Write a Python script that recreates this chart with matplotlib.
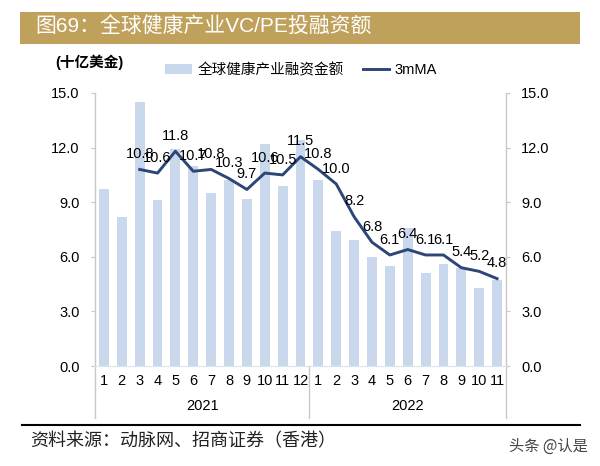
import matplotlib
matplotlib.use('Agg')
import matplotlib.pyplot as plt
from matplotlib.patches import Rectangle, Patch
from matplotlib.lines import Line2D
import matplotlib.transforms as mtransforms

plt.rcParams['font.family'] = ['Liberation Sans', 'Noto Sans CJK SC', 'DejaVu Sans']

# data
months = ['1', '2', '3', '4', '5', '6', '7', '8', '9', '10', '11', '12',
          '1', '2', '3', '4', '5', '6', '7', '8', '9', '10', '11']
years = ['2021', '2022']
year_counts = [12, 11]
funding = [9.7, 8.2, 14.5, 9.1, 11.9, 11.0, 9.5, 10.2, 9.2, 12.2, 9.9, 12.4,
           10.2, 7.4, 6.9, 6.0, 5.5, 7.6, 5.1, 5.6, 5.4, 4.3, 4.7]
ma3 = [10.8, 10.6, 11.8, 10.7, 10.8, 10.3, 9.7, 10.6, 10.5, 11.5,
       10.8, 10.0, 8.2, 6.8, 6.1, 6.4, 6.1, 6.1, 5.4, 5.2, 4.8]
yticks = [0, 3, 6, 9, 12, 15]

bar_color = '#c9d8ec'
line_color = '#2b4677'
axis_gray = '#c8c8c8'

fig = plt.figure(figsize=(6, 4.66), dpi=100)
ax = fig.add_axes([95 / 600, 1 - 366 / 466, 411 / 600, 273 / 466])

x = list(range(len(funding)))
ax.bar(x, funding, width=0.55, color=bar_color, zorder=1)
x_ma = x[2:]
ax.plot(x_ma, ma3, color=line_color, linewidth=2.1, zorder=3)
for xi, v in zip(x_ma, ma3):
    ax.annotate(f'{v:.1f}', (xi, v), xytext=(0, 6), textcoords='offset points',
                ha='center', va='bottom', fontsize=10.5, color='black', zorder=4)

ax.set_xlim(-0.5, len(funding) - 0.5)
ax.set_ylim(0, 15)
ax.set_yticks(yticks)
ax.set_yticklabels([f'{t:.1f}' for t in yticks])
ax.tick_params(axis='y', which='both', left=True, right=True, labelleft=True,
               labelright=True, length=3, color=axis_gray, labelsize=10.5, pad=8)
ax.set_xticks(x)
ax.set_xticklabels(months)
ax.tick_params(axis='x', length=0, labelsize=10.5, pad=6)

for s in ['top', 'left', 'right']:
    ax.spines[s].set_visible(False)
ax.spines['bottom'].set_color('#dde3ee')

# year separators and labels
trans = mtransforms.blended_transform_factory(ax.transData, ax.transAxes)
edges = [-0.5]
for c in year_counts:
    edges.append(edges[-1] + c)
for i, e in enumerate(edges):
    top = 1.0 if i in (0, len(edges) - 1) else 0.0
    ax.plot([e, e], [-0.19, top], transform=trans, color=axis_gray,
            linewidth=1, clip_on=False, zorder=0)
for yr, a, b in zip(years, edges[:-1], edges[1:]):
    ax.text((a + b) / 2, -0.148, yr, transform=trans, ha='center', va='center',
            fontsize=10.5)

# unit label
fig.text(55 / 600, 1 - 62 / 466, '(十亿美金)', fontsize=10.5, fontweight='bold',
         ha='left', va='center')

# legend
handles = [Patch(facecolor=bar_color, edgecolor='none'),
           Line2D([0], [0], color=line_color, linewidth=2.1)]
fig.legend(handles, ['全球健康产业融资金额', '3mMA'], loc='center',
           bbox_to_anchor=(0.502, 1 - 70 / 466), ncol=2, frameon=False,
           fontsize=10.5, handlelength=1.8, handleheight=0.6,
           columnspacing=1.3, handletextpad=0.4)

# title bar
fig.patches.append(Rectangle((20 / 600, 1 - 44 / 466), 560 / 600, 32 / 466,
                             transform=fig.transFigure, facecolor='#c0a15c',
                             edgecolor='none', zorder=0))
fig.text(35 / 600, 1 - 27 / 466, '图69：全球健康产业VC/PE投融资额', color='white',
         fontsize=15, ha='left', va='center',
         family=['Liberation Sans', 'Noto Sans CJK SC', 'DejaVu Sans'])

# source line
fig.add_artist(Line2D([22 / 600, 580 / 600], [1 - 425 / 466, 1 - 425 / 466],
                      transform=fig.transFigure, color='black', linewidth=1.5))
fig.text(30 / 600, 1 - 441 / 466, '资料来源：动脉网、招商证券（香港）', fontsize=13,
         ha='left', va='center', color='#222222',
         family=['Noto Sans CJK SC', 'DejaVu Sans'])
fig.text(588 / 600, 1 - 446 / 466, '头条 @认是', fontsize=11, ha='right',
         va='center', color='#444444', family=['Noto Sans CJK SC', 'DejaVu Sans'])

fig.savefig('out.png', dpi=100)
